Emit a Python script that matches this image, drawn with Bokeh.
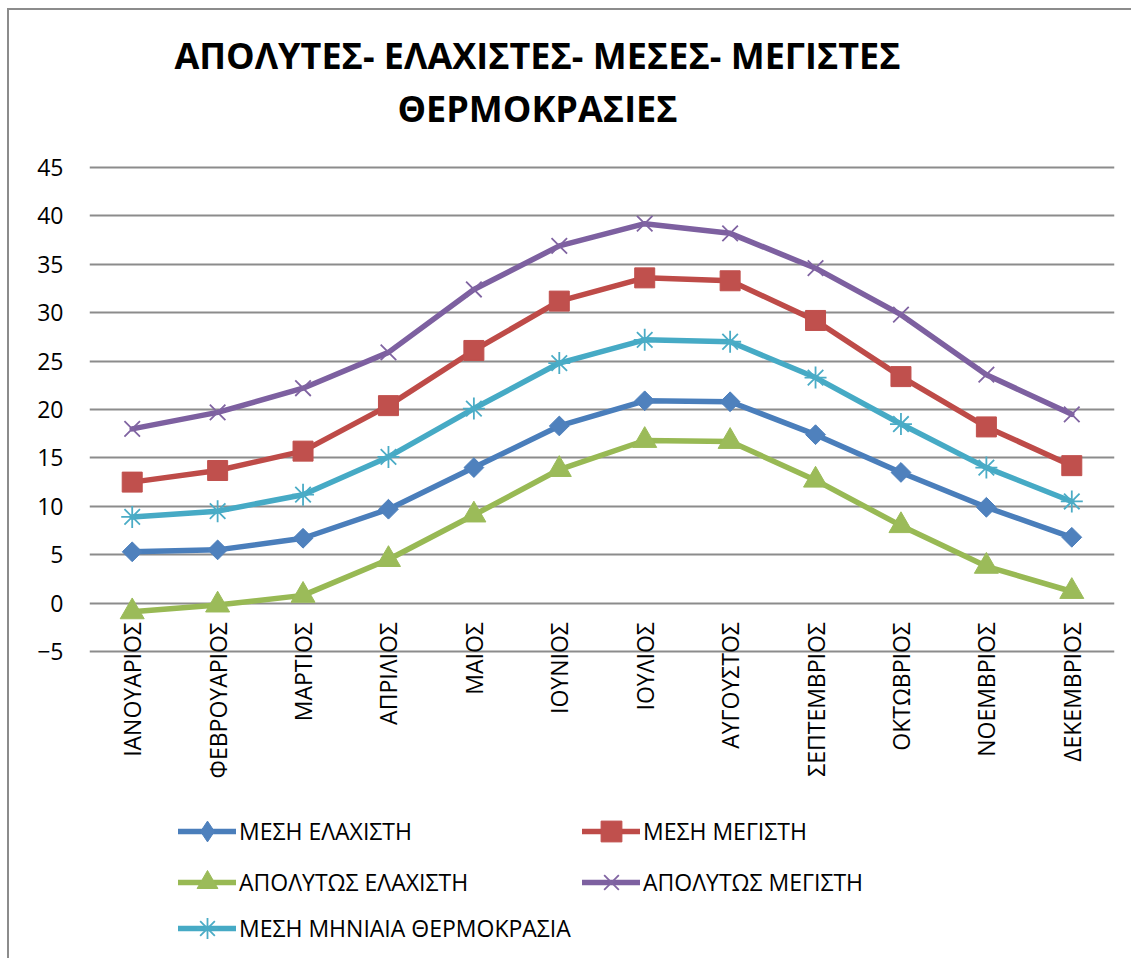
from math import pi
from bokeh.plotting import figure
from bokeh.models import (ColumnDataSource, LabelSet, Label, Legend, LegendItem,
                          FactorRange, Range1d, FixedTicker)
from bokeh.embed import file_html
from bokeh.resources import INLINE
from bokeh.core.properties import value

# ---------------- data ----------------
months = ["ΙΑΝΟΥΑΡΙΟΣ", "ΦΕΒΡΟΥΑΡΙΟΣ", "ΜΑΡΤΙΟΣ", "ΑΠΡΙΛΙΟΣ", "ΜΑΙΟΣ", "ΙΟΥΝΙΟΣ",
          "ΙΟΥΛΙΟΣ", "ΑΥΓΟΥΣΤΟΣ", "ΣΕΠΤΕΜΒΡΙΟΣ", "ΟΚΤΩΒΡΙΟΣ", "ΝΟΕΜΒΡΙΟΣ", "ΔΕΚΕΜΒΡΙΟΣ"]

mesi_elaxisti = [5.3, 5.5, 6.7, 9.7, 14.0, 18.3, 20.9, 20.8, 17.4, 13.5, 9.9, 6.8]
mesi_megisti = [12.5, 13.7, 15.7, 20.4, 26.1, 31.2, 33.6, 33.3, 29.2, 23.4, 18.2, 14.2]
apolytos_elaxisti = [-0.9, -0.2, 0.8, 4.5, 9.1, 13.8, 16.8, 16.7, 12.7, 8.0, 3.8, 1.2]
apolytos_megisti = [18.0, 19.7, 22.2, 25.9, 32.4, 36.9, 39.2, 38.2, 34.6, 29.8, 23.6, 19.5]
mesi_miniaia = [8.9, 9.5, 11.2, 15.1, 20.1, 24.8, 27.2, 27.0, 23.3, 18.5, 14.0, 10.5]

series_names = ["ΜΕΣΗ ΕΛΑΧΙΣΤΗ", "ΜΕΣΗ ΜΕΓΙΣΤΗ", "ΑΠΟΛΥΤΩΣ ΕΛΑΧΙΣΤΗ",
                "ΑΠΟΛΥΤΩΣ ΜΕΓΙΣΤΗ", "ΜΕΣΗ ΜΗΝΙΑΙΑ ΘΕΡΜΟΚΡΑΣΙΑ"]
y_ticks = [-5, 0, 5, 10, 15, 20, 25, 30, 35, 40, 45]
title_lines = ["ΑΠΟΛΥΤΕΣ- ΕΛΑΧΙΣΤΕΣ- ΜΕΣΕΣ- ΜΕΓΙΣΤΕΣ", "ΘΕΡΜΟΚΡΑΣΙΕΣ"]

FONT = "Open Sans"

src = ColumnDataSource(dict(
    month=months,
    s1=mesi_elaxisti, s2=mesi_megisti, s3=apolytos_elaxisti,
    s4=apolytos_megisti, s5=mesi_miniaia,
    zero=[0] * len(months),
))

# The frame fills the canvas vertically; the visible value band (-5..45) sits inside it,
# so the title, category labels and legend (drawn in the frame) are not clipped.
W, H = 1124, 950
p = figure(x_range=FactorRange(*months), y_range=Range1d(-36.92, 61.22),
           width=W, height=H, output_backend="svg", toolbar_location=None,
           min_border_left=80, min_border_right=W - 80 - 1025, min_border_top=0,
           min_border_bottom=0,
           background_fill_color="white", border_fill_color="white",
           styles={"margin-left": "7px", "margin-top": "8px",
                   "border-left": "2px solid #8c8c8c", "border-top": "2px solid #8c8c8c"})

p.outline_line_color = None
p.xaxis.visible = False
p.xgrid.visible = False
p.ygrid.grid_line_color = "#8c8c8c"
p.ygrid.grid_line_width = 2
p.yaxis.ticker = FixedTicker(ticks=y_ticks)
p.yaxis.axis_line_color = None
p.yaxis.major_tick_line_color = None
p.yaxis.minor_tick_line_color = None
p.yaxis.major_tick_out = 0
p.yaxis.major_tick_in = 0
p.yaxis.major_label_standoff = 26
p.yaxis.major_label_text_font = FONT
p.yaxis.major_label_text_font_size = "23px"
p.yaxis.major_label_text_color = "black"

# col, line colour, marker colour, chart marker, size, angle, marker line width, legend marker
styles = [
    ("s1", "#4A7EBB", "#4F81BD", "square", 14, pi / 4, 1, "diamond"),
    ("s2", "#BE4B48", "#C0504D", "square", 20, 0, 1, None),
    ("s3", "#98B954", "#9BBB59", "triangle", 24, 0, 1, None),
    ("s4", "#7D60A0", "#8064A2", "x", 22, 0, 1.8, None),
    ("s5", "#46AAC5", "#4BACC6", "asterisk", 22, 0, 1.8, None),
]

items = []
for (col, lc, mc, marker, size, ang, mlw, lmarker), name in zip(styles, series_names):
    ln = p.line("month", col, source=src, line_color=lc, line_width=5.5,
                line_join="round", line_cap="round")
    rends = [ln]
    if lmarker is not None:
        # diamond used for the legend swatch; drawn under the chart marker, so hidden
        rends.append(p.scatter("month", col, source=src, marker=lmarker, size=18,
                               fill_color=mc, line_color=mc, line_width=mlw))
    mk = p.scatter("month", col, source=src, marker=marker, size=size, angle=ang,
                   fill_color=mc, line_color=mc, line_width=mlw)
    if lmarker is None:
        rends.append(mk)
    items.append(LegendItem(label=name, renderers=rends))

# category labels along the zero line
labels = LabelSet(x="month", y="zero", text="month", source=src, angle=pi / 2,
                  text_align="right", text_baseline="middle", y_offset=-19,
                  text_font=value(FONT), text_font_size="23px", text_color="black")
p.add_layout(labels)

# title (two centred lines)
for txt, vy in zip(title_lines, [905, 852]):
    p.add_layout(Label(x=448, y=vy, x_units="screen", y_units="screen", text=txt,
                       text_align="center", text_baseline="middle",
                       text_font=FONT, text_font_size="36px",
                       text_font_style="bold", text_color="black"))

def make_legend(it, loc):
    return Legend(items=[it], location=loc, orientation="vertical", padding=0,
                  spacing=0, glyph_width=58, glyph_height=52, label_height=24,
                  label_standoff=3, label_text_font=FONT, label_text_font_size="23px",
                  label_text_color="black", border_line_color=None,
                  background_fill_alpha=0)

# legend rows: left column x=89, right column x=493 (px from frame left)
legend_pos = [(89, 103), (493, 103), (89, 52), (493, 52), (89, 6)]
for it, loc in zip(items, legend_pos):
    p.add_layout(make_legend(it, loc))

open("out.html", "w").write(file_html(p, INLINE))
